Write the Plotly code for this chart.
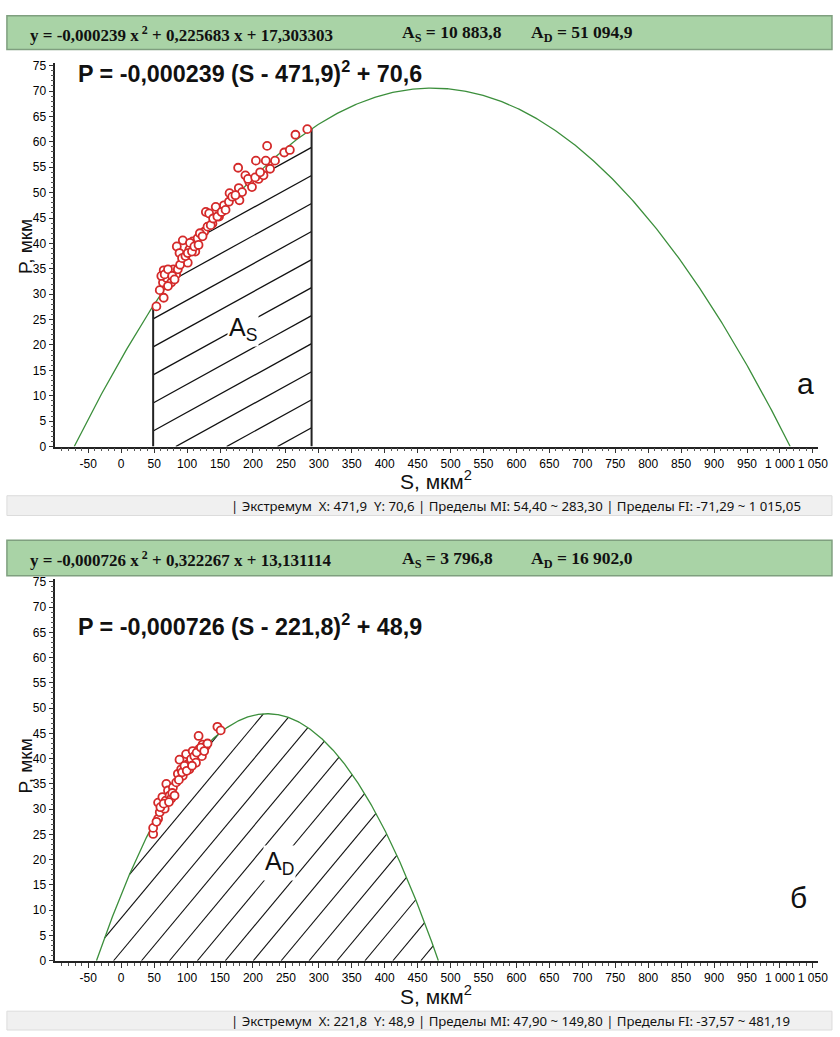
import numpy as np
import plotly.graph_objects as go

W, H = 840, 1037

# ---------------- data ----------------
coef_a = [-0.000239, 0.225683, 17.303303]
coef_b = [-0.000726, 0.322267, 13.131114]
limits_a = [48.5, 289.0]

S_a = [53.4, 58.5, 64.5, 63.4, 64.5, 69.0, 73.5, 79.5, 83.4, 75.9, 71.0, 84.4, 88.5, 93.5, 96.0,
       101.0, 103.5, 108.5, 112.5, 116.0, 126.0, 128.5, 133.5, 138.5, 143.5, 148.5, 156.0, 163.5,
       164.5, 178.5, 179.5, 177.5, 183.5, 188.5, 194.5, 198.5, 204.5, 208.5, 216.0, 219.5, 221.5,
       226.0, 233.5, 247.5, 256.0, 264.5, 282.5,
       60.9, 66.0, 71.0, 77.4, 81.0, 86.0, 89.4, 92.4, 97.5, 101.0, 104.4, 107.4, 111.0, 117.4,
       119.4, 123.5, 131.0, 135.9, 139.5, 146.0, 152.4, 158.4, 168.5, 173.4, 192.5, 203.4, 210.9]
P_a = [27.6, 30.8, 29.3, 32.3, 34.7, 33.2, 34.2, 34.9, 33.9, 32.3, 31.6, 39.4, 38.1, 40.6, 36.8,
       36.2, 38.8, 40.4, 38.4, 41.0, 42.3, 46.2, 45.9, 43.9, 47.2, 45.3, 47.5, 48.2,
       49.9, 50.9, 48.5, 54.9, 50.1, 53.4, 52.1, 51.1, 56.3, 52.7, 53.4, 56.3, 59.2,
       54.7, 56.3, 57.9, 58.4, 61.4, 62.5,
       33.6, 33.9, 34.9, 33.6, 32.9, 34.9, 35.8, 37.1, 37.5, 38.1, 40.1, 38.4, 39.4, 39.7,
       42.0, 41.4, 43.3, 43.6, 44.9, 45.3, 46.2, 46.6, 49.2, 49.5, 52.7, 53.0, 54.0]

S_b = [48.5, 48.5, 56.0, 58.5, 56.0, 62.5, 66.0, 67.5, 68.5, 71.0, 73.5, 76.0, 78.5, 83.5, 86.0,
       88.5, 91.0, 93.5, 98.5, 101.0, 103.5, 106.0, 108.5, 111.0, 113.5, 117.5, 118.5, 122.5,
       123.5, 128.5, 146.0, 151.0,
       53.5, 59.5, 64.5, 72.5, 77.5, 81.0, 87.5, 92.5, 96.0, 99.5, 107.5, 114.5, 121.0, 126.0, 131.0]
P_b = [25.1, 26.3, 28.1, 29.4, 31.3, 32.4, 30.1, 31.7, 35.0, 33.7, 32.7, 32.1, 34.3, 35.3, 37.0,
       39.8, 37.9, 36.6, 40.9, 38.9, 37.9, 39.9, 41.5, 40.5, 39.2, 44.5, 41.9, 40.5,
       42.8, 42.5, 46.3, 45.6,
       27.5, 30.4, 31.1, 31.4, 33.2, 32.7, 35.8, 37.3, 38.6, 37.6, 38.6, 41.2, 42.2, 41.5, 43.0]

x_tickvals = list(range(-50, 1051, 50))
x_ticktext = [f"{v:,}".replace(",", " ") for v in x_tickvals]
y_tickvals = list(range(0, 76, 5))

header_a = ["y = -0,000239 x<sup> 2</sup> + 0,225683 x + 17,303303", "A<sub>S</sub> = 10 883,8", "A<sub>D</sub> = 51 094,9"]
header_b = ["y = -0,000726 x<sup> 2</sup> + 0,322267 x + 13,131114", "A<sub>S</sub> = 3 796,8", "A<sub>D</sub> = 16 902,0"]
formula_a = "P = -0,000239 (S - 471,9)<sup>2</sup> + 70,6"
formula_b = "P = -0,000726 (S - 221,8)<sup>2</sup> + 48,9"
footer_a = "| Экстремум  X: 471,9  Y: 70,6 | Пределы MI: 54,40 ~ 283,30 | Пределы FI: -71,29 ~ 1 015,05"
footer_b = "| Экстремум  X: 221,8  Y: 48,9 | Пределы MI: 47,90 ~ 149,80 | Пределы FI: -37,57 ~ 481,19"

# ---------------- helpers ----------------
def fpoly(c, s):
    s = np.asarray(s, dtype=float)
    return c[0] * s ** 2 + c[1] * s + c[2]

def roots(c):
    r = np.sort(np.roots(c).real)
    return r[0], r[1]

def hatch(c, xl, xr, slope, intercepts):
    xs, ys = [], []
    for cc in intercepts:
        rr = np.roots([c[0], c[1] - slope, c[2] + slope * cc])
        if np.iscomplexobj(rr) and np.any(np.abs(rr.imag) > 1e-9):
            continue
        rr = np.sort(rr.real)
        lo = max(xl, cc, rr[0])
        hi = min(xr, rr[1])
        if hi > lo:
            xs += [lo, hi, None]
            ys += [slope * (lo - cc), slope * (hi - cc), None]
    return xs, ys

def px(x):
    return x / W

def py(y):
    return 1 - y / H

GREEN = "#3c8f3c"
RED = "#d42a2a"

fig = go.Figure()

ra = roots(coef_a)
sa = np.linspace(ra[0], ra[1], 500)
slope_a = 0.0715
ya_right = [3.7 + 5.52 * k for k in range(-10, 14)]
ica = [limits_a[1] - v / slope_a for v in ya_right]
hx, hy = hatch(coef_a, limits_a[0], limits_a[1], slope_a, ica)
fig.add_trace(go.Scatter(x=hx, y=hy, mode="lines", line=dict(color="#111", width=1.3),
                         xaxis="x", yaxis="y", hoverinfo="skip", showlegend=False))
for xv in limits_a:
    fig.add_trace(go.Scatter(x=[xv, xv], y=[0, float(fpoly(coef_a, xv))], mode="lines",
                             line=dict(color="#222", width=2), xaxis="x", yaxis="y",
                             showlegend=False, hoverinfo="skip"))
fig.add_trace(go.Scatter(x=sa, y=fpoly(coef_a, sa), mode="lines", line=dict(color=GREEN, width=1.3),
                         xaxis="x", yaxis="y", showlegend=False))
fig.add_trace(go.Scatter(x=S_a, y=P_a, mode="markers",
                         marker=dict(symbol="circle", size=8, color="white",
                                     line=dict(color=RED, width=1.8)),
                         xaxis="x", yaxis="y", showlegend=False))

rb = roots(coef_b)
sb = np.linspace(rb[0], rb[1], 500)
slope_b = 0.1565
icb = [-11.6 + 42.4 * k for k in range(-10, 16)]
hx, hy = hatch(coef_b, rb[0], rb[1], slope_b, icb)
fig.add_trace(go.Scatter(x=hx, y=hy, mode="lines", line=dict(color="#111", width=1.1),
                         xaxis="x2", yaxis="y2", hoverinfo="skip", showlegend=False))
fig.add_trace(go.Scatter(x=sb, y=fpoly(coef_b, sb), mode="lines", line=dict(color=GREEN, width=1.3),
                         xaxis="x2", yaxis="y2", showlegend=False))
fig.add_trace(go.Scatter(x=S_b, y=P_b, mode="markers",
                         marker=dict(symbol="circle", size=8, color="white",
                                     line=dict(color=RED, width=1.8)),
                         xaxis="x2", yaxis="y2", showlegend=False))

tickfont = dict(family="Liberation Sans Narrow, Liberation Sans, Arial", size=12, color="#000")

def xaxis_cfg(anchor):
    return dict(domain=[px(56), px(828)], range=[-100, 1058], anchor=anchor,
                tickmode="array", tickvals=x_tickvals, ticktext=x_ticktext,
                ticks="outside", ticklen=5, tickwidth=1, tickcolor="#333",
                minor=dict(ticks="outside", ticklen=3, tickcolor="#555",
                           tickvals=[v for v in range(-100, 1060, 10) if v % 50 != 0]),
                showline=True, linecolor="#222", linewidth=1.6, showgrid=False,
                zeroline=False, tickfont=tickfont, fixedrange=True)

def yaxis_cfg(anchor, dom):
    return dict(domain=dom, range=[0, 75.5], anchor=anchor,
                tickmode="array", tickvals=y_tickvals,
                ticks="outside", ticklen=5, tickwidth=1, tickcolor="#333",
                minor=dict(ticks="outside", ticklen=3, tickcolor="#555",
                           tickvals=[v for v in range(0, 76) if v % 5 != 0]),
                showline=True, linecolor="#222", linewidth=1.6, showgrid=False,
                zeroline=False, tickfont=tickfont, fixedrange=True)

dom_a = [py(447.3), py(447.3 - 75.5 * 5.133)]
dom_b = [py(967), py(967 - 75.5 * 5.106)]

shapes = []
anns = []

def header(y0, y1, texts):
    shapes.append(dict(type="rect", xref="paper", yref="paper", x0=px(7), x1=px(842),
                       y0=py(y1), y1=py(y0), fillcolor="#a9d3a6",
                       line=dict(color="#7f9f7f", width=1.5), layer="below"))
    xs = [28, 405, 535]
    sizes = [17, 17.5, 17.5]
    for xx, t, s in zip(xs, texts, sizes):
        anns.append(dict(xref="paper", yref="paper", x=px(xx), y=py((y0 + y1) / 2 + 1),
                         xanchor="left", yanchor="middle", text="<b>" + t + "</b>", showarrow=False,
                         font=dict(family="Liberation Serif, Times New Roman", size=s,
                                   color="#111")))

def footer(y0, y1, text):
    shapes.append(dict(type="rect", xref="paper", yref="paper", x0=px(7), x1=px(842),
                       y0=py(y1), y1=py(y0), fillcolor="#f0f0f0",
                       line=dict(color="#dcdcdc", width=1), layer="below"))
    anns.append(dict(xref="paper", yref="paper", x=px(232), y=py((y0 + y1) / 2),
                     xanchor="left", yanchor="middle", text=text, showarrow=False,
                     font=dict(family="Noto Sans, Open Sans, Arial", size=13.2, color="#111")))

header(12, 46, header_a)
header(542, 578, header_b)
footer(497, 517, footer_a)
footer(1018, 1037, footer_b)

for t, yy in [(formula_a, 69), (formula_b, 628)]:
    anns.append(dict(xref="paper", yref="paper", x=px(77), y=py(yy), xanchor="left",
                     yanchor="middle", text="<b>" + t + "</b>", showarrow=False,
                     font=dict(family="Liberation Sans, Arial", size=23.3, color="#111")))

for yy in [245, 770]:
    anns.append(dict(xref="paper", yref="paper", x=px(26), y=py(yy), xanchor="center",
                     yanchor="middle", text="P, мкм", textangle=-90, showarrow=False,
                     font=dict(family="Liberation Sans, Arial", size=19, color="#111")))
for yy in [481, 1002]:
    anns.append(dict(xref="paper", yref="paper", x=px(441), y=py(yy), xanchor="center",
                     yanchor="middle", text="S, мкм<sup>2</sup>", showarrow=False,
                     font=dict(family="Liberation Sans, Arial", size=21, color="#111")))

anns.append(dict(xref="paper", yref="paper", x=px(246), y=py(328), xanchor="center",
                 yanchor="middle", text="A<sub>S</sub>", showarrow=False, bgcolor="white",
                 font=dict(family="Liberation Sans, Arial", size=25, color="#111")))
anns.append(dict(xref="paper", yref="paper", x=px(283), y=py(868), xanchor="center",
                 yanchor="middle", text="A<sub>D</sub>", showarrow=False, bgcolor="white",
                 font=dict(family="Liberation Sans, Arial", size=25, color="#111")))
anns.append(dict(xref="paper", yref="paper", x=px(815), y=py(384), xanchor="center",
                 yanchor="middle", text="а", showarrow=False,
                 font=dict(family="Liberation Sans, Arial", size=30, color="#111")))
anns.append(dict(xref="paper", yref="paper", x=px(808), y=py(903), xanchor="center",
                 yanchor="middle", text="б", showarrow=False,
                 font=dict(family="Liberation Sans, Arial", size=30, color="#111")))

fig.update_layout(
    width=W, height=H, margin=dict(l=0, r=0, t=0, b=0),
    paper_bgcolor="white", plot_bgcolor="white", showlegend=False,
    xaxis=xaxis_cfg("y"), yaxis=yaxis_cfg("x", dom_a),
    xaxis2=xaxis_cfg("y2"), yaxis2=yaxis_cfg("x2", dom_b),
    shapes=shapes, annotations=anns,
)

fig.write_html("out.html", config={"displayModeBar": False},
               post_script="document.body.style.margin='0';document.documentElement.style.overflow='hidden';document.body.style.overflow='hidden';")
